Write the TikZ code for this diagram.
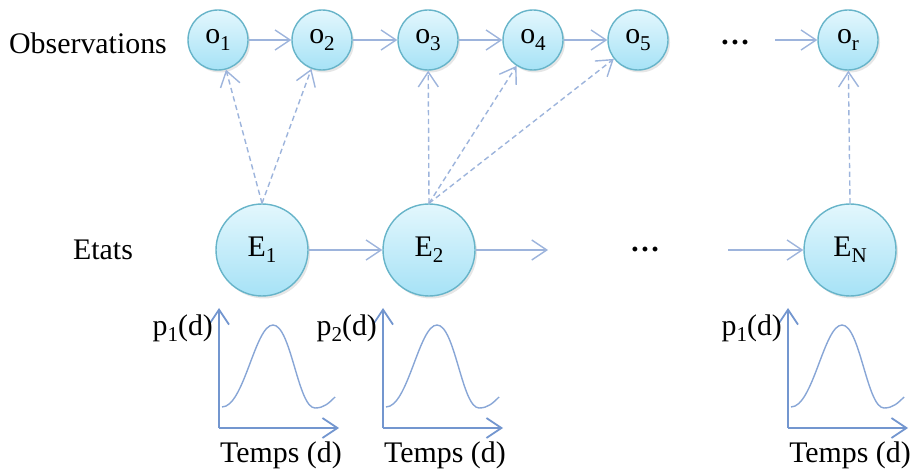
\documentclass[tikz,border=0pt]{standalone}
\usepackage{fontspec}
\setmainfont{Liberation Serif}
\usetikzlibrary{arrows.meta, shadows}

\definecolor{bordure}{HTML}{67B4C9}
\definecolor{haut}{HTML}{E3F7FD}
\definecolor{bas}{HTML}{A6E2F6}
\definecolor{fleche}{HTML}{9DB4DC}
\definecolor{axecol}{HTML}{7396CF}

\newcommand{\indice}[1]{\raisebox{-0.45ex}{\fontsize{12}{12}\selectfont #1}}

\begin{document}
\begin{tikzpicture}[
  font=\fontsize{17}{20}\selectfont,
  etat/.style={circle, draw=bordure, line width=0.8pt, top color=haut, bottom color=bas,
    drop shadow={opacity=0.2, shadow xshift=0.04, shadow yshift=-0.05},
    minimum size=1.84cm, inner sep=0pt},
  obs/.style={etat, minimum size=1.2cm},
  lien/.style={draw=fleche, line width=0.8pt, -{Straight Barb[length=3mm,width=4mm]}},
  emission/.style={lien, dash pattern=on 3pt off 2pt},
  axe/.style={draw=axecol, line width=1pt, -{Straight Barb[length=3mm,width=4mm]}},
  ]
  \useasboundingbox (0,0) rectangle (18.4,9.5);
  % observations
  \node[obs] (o1) at (4.36,8.7) {o\indice{1}};
  \node[obs] (o2) at (6.44,8.7) {o\indice{2}};
  \node[obs] (o3) at (8.56,8.7) {o\indice{3}};
  \node[obs] (o4) at (10.66,8.7) {o\indice{4}};
  \node[obs] (o5) at (12.76,8.7) {o\indice{5}};
  \node[obs] (or) at (16.96,8.7) {o\indice{r}};
  \node (dotso) at (14.7,8.64) {\textbf{…}};
  \coordinate (debo) at (15.5,8.7);
  \node (lobs) at (1.76,8.64) {Observations};
  % etats
  \node[etat] (E1) at (5.24,4.5) {E\indice{1}};
  \node[etat] (E2) at (8.58,4.5) {E\indice{2}};
  \node[etat] (EN) at (17.0,4.5) {E\indice{N}};
  \coordinate (finE) at (10.96,4.5);
  \node (dotse) at (12.9,4.5) {\textbf{…}};
  \coordinate (debE) at (14.56,4.5);
  \node (letats) at (2.06,4.5) {Etats};
  % transitions
  \draw[lien] (o1) -- (o2);
  \draw[lien] (o2) -- (o3);
  \draw[lien] (o3) -- (o4);
  \draw[lien] (o4) -- (o5);
  \draw[lien] (debo) -- (or);
  \draw[lien] (E1) -- (E2);
  \draw[lien] (E2) -- (finE);
  \draw[lien] (debE) -- (EN);
  % emissions
  \draw[emission] (E1.north) -- (o1);
  \draw[emission] (E1.north) -- (o2);
  \draw[emission] (E2.north) -- (o3);
  \draw[emission] (E2.north) -- (o4);
  \draw[emission] (E2.north) -- (o5);
  \draw[emission] (EN.north) -- (or);
  % densites de duree
  \foreach \ox/\lab/\k in {4.38/1/1, 7.66/2/2, 15.76/1/3} {
    \begin{scope}[shift={(\ox,0.94)}]
      \coordinate (orig\k) at (0,0);
      \draw[axe] (orig\k) -- (0,2.4);
      \draw[axe] (orig\k) -- (2.4,0);
      \draw[draw=axecol!85, line width=0.8pt] (0.06,0.42) .. controls (0.5,0.42) and (0.72,2.06) .. (1.08,2.06)
        .. controls (1.44,2.06) and (1.58,0.4) .. (1.92,0.4) .. controls (2.1,0.4) and (2.2,0.5) .. (2.32,0.62);
      \node[left, inner sep=1pt] (dens\k) at (-0.08,2.0) {p\indice{\lab}(d)};
      \node (temps\k) at (1.24,-0.54) {Temps (d)};
    \end{scope}
  }
\end{tikzpicture}
\end{document}
